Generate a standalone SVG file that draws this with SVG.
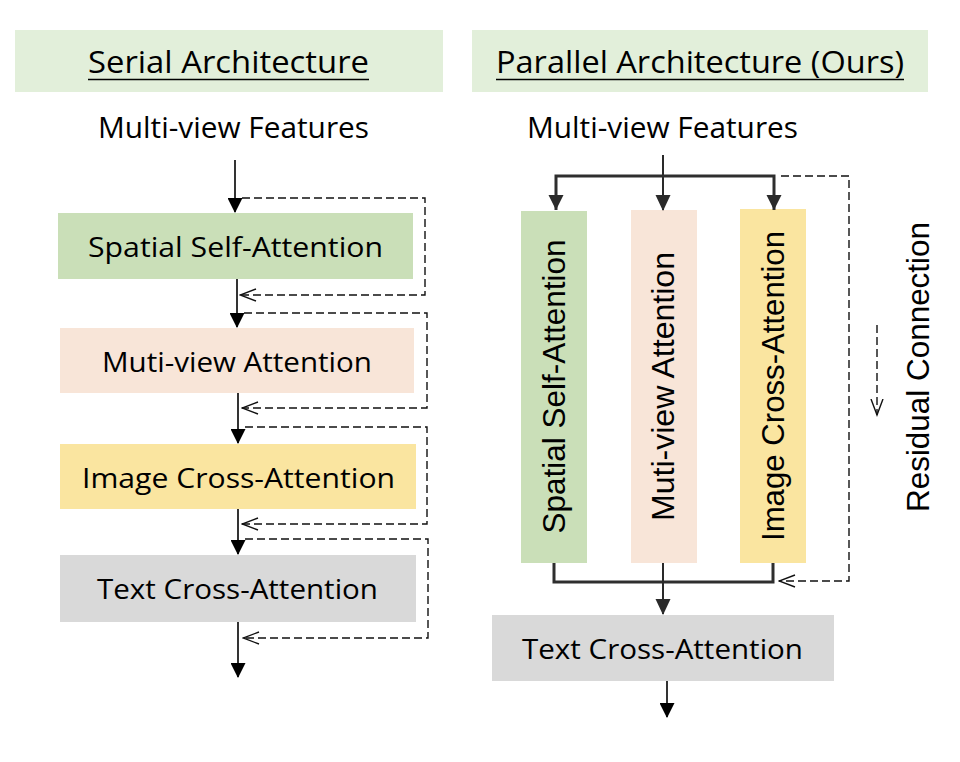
<svg xmlns="http://www.w3.org/2000/svg" width="960" height="762" viewBox="0 0 960 762">
<style>
.hdr{fill:#e2efda}
.t{font-family:"Open Sans","Noto Sans","Liberation Sans",sans-serif;fill:#000}
.v{font-family:"Liberation Sans",Arial,sans-serif;fill:#000}
.solid{stroke:#000;stroke-width:1.6;fill:none}
.thin{stroke:#2a2a2a;stroke-width:2;fill:none}
.thick{stroke:#2e2e2e;stroke-width:3;fill:none}
.dash{stroke:#111;stroke-width:1.4;fill:none;stroke-dasharray:8 4}
.green{fill:#cadfb8}
.peach{fill:#f8e5d8}
.yellow{fill:#fae5a0}
.gray{fill:#d9d9d9}
</style>
<defs>
<marker id="tri" markerUnits="userSpaceOnUse" markerWidth="15" markerHeight="15" refX="14" refY="7.5" orient="auto">
<path d="M0,0 L15,7.5 L0,15 z" fill="#000"/>
</marker>
<marker id="tri2" markerUnits="userSpaceOnUse" markerWidth="16" markerHeight="16" refX="15" refY="8" orient="auto">
<path d="M0,0.5 L16,8 L0,15.5 z" fill="#2a2a2a"/>
</marker>
<marker id="chev" markerUnits="userSpaceOnUse" markerWidth="18" markerHeight="14" refX="16.5" refY="7" orient="auto">
<path d="M0.5,1 L16.5,7 L0.5,13" fill="none" stroke="#111" stroke-width="1.4"/>
</marker>
</defs>

<g id="serial-header">
<rect class="hdr" x="15" y="30" width="428" height="62"/>
<text class="t" x="228.5" y="73" font-size="31" text-anchor="middle" textLength="281" lengthAdjust="spacingAndGlyphs">Serial Architecture</text>
<line x1="88" y1="79.5" x2="369" y2="79.5" stroke="#000" stroke-width="1.6"/>
</g>
<g id="parallel-header">
<rect class="hdr" x="472" y="30" width="456" height="62"/>
<text class="t" x="700" y="73" font-size="31" text-anchor="middle" textLength="408" lengthAdjust="spacingAndGlyphs">Parallel Architecture (Ours)</text>
<line x1="496" y1="79.5" x2="904" y2="79.5" stroke="#000" stroke-width="1.6"/>
</g>

<g id="serial-input">
<text class="t" x="233.5" y="138" font-size="30" text-anchor="middle" textLength="271" lengthAdjust="spacingAndGlyphs">Multi-view Features</text>
</g>
<g id="parallel-input">
<text class="t" x="662.5" y="138" font-size="30" text-anchor="middle" textLength="271" lengthAdjust="spacingAndGlyphs">Multi-view Features</text>
</g>

<g id="s-spatial">
<rect class="green" x="58" y="213" width="355" height="66"/>
<text class="t" x="235.5" y="257" font-size="28" text-anchor="middle" textLength="295" lengthAdjust="spacingAndGlyphs">Spatial Self-Attention</text>
</g>
<g id="s-multiview">
<rect class="peach" x="60" y="328" width="354" height="65"/>
<text class="t" x="237" y="372" font-size="28" text-anchor="middle" textLength="270" lengthAdjust="spacingAndGlyphs">Muti-view Attention</text>
</g>
<g id="s-image">
<rect class="yellow" x="60" y="444" width="356" height="65"/>
<text class="t" x="238.5" y="488" font-size="28" text-anchor="middle" textLength="313" lengthAdjust="spacingAndGlyphs">Image Cross-Attention</text>
</g>
<g id="s-text">
<rect class="gray" x="60" y="555" width="356" height="67"/>
<text class="t" x="237.5" y="599" font-size="28" text-anchor="middle" textLength="281" lengthAdjust="spacingAndGlyphs">Text Cross-Attention</text>
</g>

<g id="p-spatial">
<rect class="green" x="521" y="211" width="66" height="352"/>
<text class="v" transform="translate(565,386.5) rotate(-90)" font-size="32" text-anchor="middle" textLength="294" lengthAdjust="spacingAndGlyphs">Spatial Self-Attention</text>
</g>
<g id="p-multiview">
<rect class="peach" x="631" y="210" width="66" height="353"/>
<text class="v" transform="translate(674,386.5) rotate(-90)" font-size="32" text-anchor="middle" textLength="269" lengthAdjust="spacingAndGlyphs">Muti-view Attention</text>
</g>
<g id="p-image">
<rect class="yellow" x="740" y="209" width="66" height="354"/>
<text class="v" transform="translate(784,386) rotate(-90)" font-size="32" text-anchor="middle" textLength="310" lengthAdjust="spacingAndGlyphs">Image Cross-Attention</text>
</g>
<g id="p-text">
<rect class="gray" x="492" y="615" width="342" height="66"/>
<text class="t" x="662.5" y="659" font-size="28" text-anchor="middle" textLength="281" lengthAdjust="spacingAndGlyphs">Text Cross-Attention</text>
</g>

<g id="residual-legend">
<text class="v" transform="translate(929,367) rotate(-90)" font-size="32" text-anchor="middle" textLength="290" lengthAdjust="spacingAndGlyphs">Residual Connection</text>
<line class="dash" x1="877" y1="325" x2="877" y2="415" marker-end="url(#chev)"/>
</g>

<g id="connectors">
<line class="solid" x1="235" y1="160" x2="235" y2="212" marker-end="url(#tri)"/>
<line class="solid" x1="237" y1="279" x2="237" y2="327" marker-end="url(#tri)"/>
<line class="solid" x1="238" y1="393" x2="238" y2="443" marker-end="url(#tri)"/>
<line class="solid" x1="238" y1="509" x2="238" y2="554" marker-end="url(#tri)"/>
<line class="solid" x1="238" y1="622" x2="238" y2="677" marker-end="url(#tri)"/>
<polyline class="dash" points="242,198 425,198 425,295 240,295" marker-end="url(#chev)"/>
<polyline class="dash" points="244,313 427,313 427,408 242,408" marker-end="url(#chev)"/>
<polyline class="dash" points="245,427 427,427 427,524 242,524" marker-end="url(#chev)"/>
<polyline class="dash" points="245,539 428,539 428,638 243,638" marker-end="url(#chev)"/>
<line class="thin" x1="663" y1="155" x2="663" y2="210" marker-end="url(#tri2)"/>
<polyline class="thick" points="556,210 556,176 774,176 774,210" stroke-linejoin="miter"/>
<path d="M548.5,195 L563.5,195 L556,210 z M766.5,195 L781.5,195 L774,210 z" fill="#2a2a2a"/>
<polyline class="thick" points="554,563 554,582 773,582 773,563"/>
<line class="thin" x1="663" y1="563" x2="663" y2="614" marker-end="url(#tri2)"/>
<line class="solid" x1="667" y1="681" x2="667" y2="717" marker-end="url(#tri)"/>
<polyline class="dash" points="781,176 849,176 849,581 779,581" marker-end="url(#chev)"/>
</g>
</svg>
